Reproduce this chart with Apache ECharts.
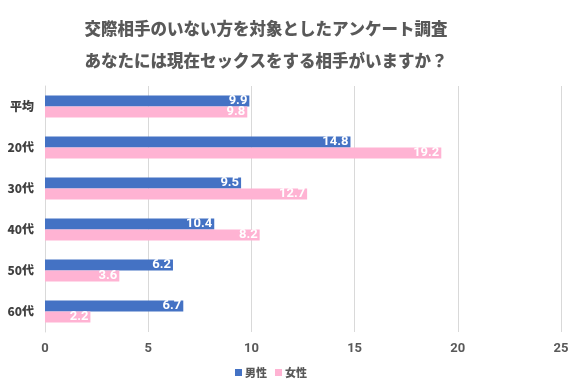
<!DOCTYPE html>
<html><head><meta charset="utf-8">
<script src="https://cdn.jsdelivr.net/npm/echarts@6/dist/echarts.min.js"></script>
<style>html,body{margin:0;padding:0;background:#fff}#c{width:580px;height:387px}</style>
</head><body><div id="c"></div>
<script>
const titleLines = ['交際相手のいない方を対象としたアンケート調査', 'あなたには現在セックスをする相手がいますか？'];
const categories = ['平均', '20代', '30代', '40代', '50代', '60代'];
const seriesNames = ['男性', '女性'];
const maleValues = [9.9, 14.8, 9.5, 8.2, 6.2, 6.7];
const femaleValues = [9.8, 19.2, 12.7, 10.4, 3.6, 2.2];
const maleLabels = ['9.9', '14.8', '9.5', '10.4', '6.2', '6.7'];
const femaleLabels = ['9.8', '19.2', '12.7', '8.2', '3.6', '2.2'];
const xTicks = [0, 5, 10, 15, 20, 25];

const FONT = '"Noto Sans CJK JP", "Noto Sans", sans-serif';
const chart = echarts.init(document.getElementById('c'), null, {renderer: 'canvas'});
function labelCfg(arr) {
  return {show: true, position: 'insideRight', distance: 2, color: '#fff', fontWeight: 'bold',
    fontSize: 13, fontFamily: 'Roboto, sans-serif', formatter: p => arr[p.dataIndex]};
}
chart.setOption({
  animation: false,
  title: {
    text: titleLines.join('\n'), left: 261, top: 8, textAlign: 'center',
    textStyle: {fontSize: 16.5, fontWeight: 900, color: '#595959', fontFamily: FONT, lineHeight: 32}
  },
  legend: {
    data: seriesNames, left: 230, top: 362, itemWidth: 7, itemHeight: 7, itemGap: 8,
    icon: 'rect', textStyle: {fontSize: 11, fontWeight: 900, color: '#595959', fontFamily: FONT, padding: [0,0,0,-2]}
  },
  grid: {left: 45, right: 19, top: 86, bottom: 55, containLabel: false},
  xAxis: {
    type: 'value', min: 0, max: 25, interval: 5,
    axisLine: {show: false}, axisTick: {show: false},
    splitLine: {lineStyle: {color: '#d9d9d9', width: 1}},
    axisLabel: {color: '#595959', fontSize: 13, fontWeight: 'bold', fontFamily: 'Roboto, sans-serif', margin: 10,
      formatter: v => xTicks.includes(v) ? String(v) : ''}
  },
  yAxis: {
    type: 'category', data: categories, inverse: true,
    axisLine: {show: true, lineStyle: {color: '#d9d9d9'}}, axisTick: {show: false},
    axisLabel: {color: '#404040', fontSize: 12, fontWeight: 900, fontFamily: FONT, margin: 11}
  },
  series: [
    {name: seriesNames[0], type: 'bar', data: maleValues, barGap: '0%', barCategoryGap: '46%',
      itemStyle: {color: '#4472C4'}, label: labelCfg(maleLabels)},
    {name: seriesNames[1], type: 'bar', data: femaleValues,
      itemStyle: {color: '#FFB3D3'}, label: labelCfg(femaleLabels)}
  ]
});
</script></body></html>
